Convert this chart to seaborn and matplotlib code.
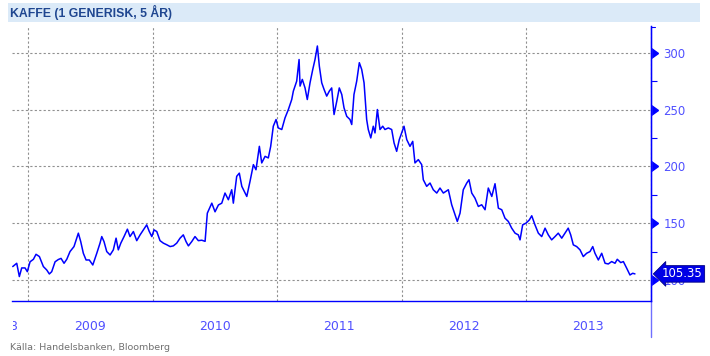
import pandas as pd
import seaborn as sns
import matplotlib
matplotlib.use("Agg")
import matplotlib.pyplot as plt
from matplotlib.transforms import Bbox, TransformedBbox, blended_transform_factory

# coffee, 1st generic (decimal year, price)
dates = [
    2008.877, 2008.909, 2008.930, 2008.949, 2008.976, 2008.994, 2009.016, 2009.043, 2009.064, 2009.091,
    2009.123, 2009.150, 2009.171, 2009.190, 2009.217, 2009.243, 2009.265, 2009.289, 2009.311, 2009.337,
    2009.369, 2009.404, 2009.423, 2009.444, 2009.466, 2009.492, 2009.520, 2009.552, 2009.578, 2009.592,
    2009.610, 2009.632, 2009.659, 2009.685, 2009.707, 2009.725, 2009.745, 2009.771, 2009.798, 2009.819,
    2009.846, 2009.873, 2009.900, 2009.926, 2009.953, 2009.974, 2009.994, 2010.012, 2010.034, 2010.060,
    2010.087, 2010.114, 2010.141, 2010.167, 2010.194, 2010.221, 2010.247, 2010.269, 2010.288, 2010.315,
    2010.341, 2010.368, 2010.395, 2010.422, 2010.440, 2010.476, 2010.502, 2010.529, 2010.556, 2010.582,
    2010.609, 2010.636, 2010.649, 2010.676, 2010.697, 2010.717, 2010.757, 2010.783, 2010.810, 2010.831,
    2010.858, 2010.877, 2010.904, 2010.930, 2010.949, 2010.970, 2010.992, 2011.010, 2011.038, 2011.064,
    2011.091, 2011.118, 2011.131, 2011.158, 2011.177, 2011.185, 2011.203, 2011.225, 2011.243, 2011.265,
    2011.287, 2011.305, 2011.324, 2011.340, 2011.359, 2011.378, 2011.399, 2011.420, 2011.439, 2011.458,
    2011.480, 2011.500, 2011.520, 2011.538, 2011.560, 2011.586, 2011.600, 2011.618, 2011.640, 2011.661,
    2011.680, 2011.699, 2011.720, 2011.733, 2011.753, 2011.773, 2011.787, 2011.806, 2011.827, 2011.849,
    2011.867, 2011.894, 2011.921, 2011.940, 2011.961, 2011.982, 2012.020, 2012.042, 2012.068, 2012.090,
    2012.108, 2012.135, 2012.162, 2012.175, 2012.202, 2012.229, 2012.255, 2012.283, 2012.309, 2012.336,
    2012.376, 2012.403, 2012.430, 2012.448, 2012.470, 2012.496, 2012.524, 2012.542, 2012.564, 2012.590,
    2012.617, 2012.644, 2012.671, 2012.697, 2012.725, 2012.751, 2012.778, 2012.805, 2012.831, 2012.858,
    2012.885, 2012.912, 2012.938, 2012.952, 2012.973, 2013.000, 2013.027, 2013.046, 2013.072, 2013.099,
    2013.126, 2013.153, 2013.179, 2013.206, 2013.233, 2013.259, 2013.287, 2013.313, 2013.339, 2013.359,
    2013.380, 2013.407, 2013.434, 2013.460, 2013.487, 2013.514, 2013.536, 2013.554, 2013.581, 2013.608,
    2013.635, 2013.661, 2013.688, 2013.715, 2013.733, 2013.761, 2013.782, 2013.809, 2013.835, 2013.857,
    2013.875,
]
price = [
    111.8, 114.7, 103.0, 110.6, 110.6, 107.3, 116.0, 118.2, 122.6, 120.6,
    111.8, 108.8, 105.3, 107.3, 116.0, 118.0, 119.0, 114.7, 118.2, 125.0,
    129.4, 141.2, 133.8, 123.5, 117.6, 117.6, 113.2, 123.5, 132.4, 138.2,
    133.8, 125.0, 122.0, 126.5, 136.8, 126.5, 132.4, 138.2, 144.7, 138.2,
    142.6, 134.6, 139.7, 144.1, 148.5, 142.6, 138.2, 144.1, 142.6, 134.6,
    132.4, 131.0, 129.4, 130.0, 132.4, 136.8, 139.7, 133.8, 130.0, 133.8,
    138.2, 134.6, 135.0, 134.0, 158.8, 167.6, 160.0, 166.0, 167.6, 176.5,
    170.6, 179.4, 167.6, 191.2, 194.0, 182.4, 173.5, 186.8, 201.5, 197.0,
    217.6, 203.0, 208.8, 207.4, 217.6, 235.3, 241.2, 233.8, 232.4, 242.6,
    250.0, 258.8, 266.2, 275.0, 294.0, 270.6, 276.5, 269.0, 258.8, 273.5,
    285.3, 294.0, 305.9, 288.0, 273.5, 267.6, 261.8, 266.2, 269.0, 245.6,
    257.4, 269.0, 263.2, 251.5, 244.0, 241.2, 236.8, 263.2, 275.0, 291.2,
    285.3, 273.5, 241.2, 232.4, 225.0, 235.3, 229.4, 250.0, 232.4, 235.3,
    232.4, 233.8, 232.4, 220.6, 213.2, 223.5, 235.3, 223.5, 217.6, 222.0,
    203.0, 205.9, 201.5, 188.2, 182.4, 185.3, 179.4, 176.5, 180.9, 176.5,
    179.4, 166.2, 157.4, 151.5, 158.8, 179.4, 185.3, 188.2, 176.5, 172.0,
    164.7, 166.2, 161.8, 180.9, 173.5, 184.7, 163.2, 161.8, 154.4, 151.5,
    145.6, 141.2, 139.7, 135.3, 148.5, 150.0, 152.9, 156.5, 148.5, 141.2,
    138.2, 145.6, 139.7, 135.3, 138.2, 141.2, 136.8, 141.2, 145.6, 139.7,
    130.9, 129.4, 126.5, 120.6, 123.5, 125.0, 129.4, 123.5, 117.6, 123.5,
    114.7, 114.1, 116.2, 114.7, 118.2, 115.3, 116.2, 110.3, 104.4, 105.9,
    105.35,
]
year_labels = ["2008", "2009", "2010", "2011", "2012", "2013"]
year_starts = [2009, 2010, 2011, 2012, 2013, 2014]
y_major = [100, 150, 200, 250, 300]
y_minor = [125, 175, 225, 275]
last_label = "105.35"

df = pd.DataFrame({"date": dates, "price": price})

sns.set_style("white")
plt.rcParams["font.family"] = ["DejaVu Sans"]

BLUE = "#0000ff"
LBLUE = "#5050ff"

fig = plt.figure(figsize=(7.1, 3.56), dpi=100)
W, H = 710, 356
ax = fig.add_axes([12 / W, (H - 301) / H, 639 / W, 275 / H])

sns.lineplot(data=df, x="date", y="price", ax=ax, color=BLUE, linewidth=1.1,
             estimator=None, sort=False)
ax.set_xlabel("")
ax.set_ylabel("")

# grid
ax.set_xticks(year_starts)
ax.set_xticks([y + q for y in year_starts[:-1] for q in (0.25, 0.5, 0.75)], minor=True)
ax.set_xticklabels([])
ax.set_yticks(y_major)
ax.set_yticks(y_minor, minor=True)
ax.set_xlim(2008.871, 2014.004)
ax.set_ylim(81.5, 323.5)
ax.grid(True, which="major", color="#909090", linestyle=(0, (2, 2)), linewidth=0.8)
ax.set_axisbelow(True)

for s in ["top", "left"]:
    ax.spines[s].set_visible(False)
ax.spines["bottom"].set_color(BLUE)
ax.spines["bottom"].set_linewidth(1.0)
ax.spines["right"].set_color(BLUE)
ax.spines["right"].set_linewidth(1.0)

ax.yaxis.tick_right()
ax.tick_params(axis="y", which="major", length=0, labelcolor=LBLUE, labelsize=8.5, pad=9)
ax.tick_params(axis="y", which="minor", length=4, color=BLUE, width=0.8, direction="out")
ax.tick_params(axis="x", which="major", length=26, color="#9090ff", width=1.0, direction="out")
ax.tick_params(axis="x", which="minor", length=3, color=BLUE, width=0.8, direction="out")

# triangle markers on the right axis
ax.plot([1] * len(y_major), y_major, ls="none", marker=9, markersize=7, color=BLUE,
        transform=ax.get_yaxis_transform(), clip_on=False)
# right axis runs below the plot
ax.plot([1, 1], [-0.13, 1], color="#7070ff", linewidth=1.0, transform=ax.transAxes, clip_on=False)
ax.plot([1, 1.006], [0.995, 0.995], color=BLUE, linewidth=0.8, transform=ax.transAxes, clip_on=False)

# year labels below the axis (the 2008 one is cut at the left edge, as in the original)
trans = blended_transform_factory(ax.transData, fig.transFigure)
clip = TransformedBbox(Bbox([[12.5 / W, 0], [1, 1]]), fig.transFigure)
for lab, start in zip(year_labels, year_starts):
    xc = start - 0.5 if lab != "2008" else 2008.792
    t = ax.text(xc, 1 - 327 / H, lab, transform=trans, ha="center", va="center",
                color=LBLUE, fontsize=9, clip_on=True)
    t.set_clip_box(clip)

# last value tag
ax.annotate(last_label, xy=(1.0, price[-1]), xycoords=("axes fraction", "data"),
            xytext=(8, 0), textcoords="offset points", ha="left", va="center",
            color="white", fontsize=8.5,
            bbox=dict(boxstyle="larrow,pad=0.15", fc="#0000e6", ec="#000080", lw=0.6),
            annotation_clip=False)

# title band
fig.patches.append(plt.Rectangle((8 / W, 1 - 22 / H), 692 / W, 19 / H, transform=fig.transFigure,
                                 facecolor="#dbeaf8", edgecolor="none", zorder=0))
fig.text(10 / W, 1 - 12.5 / H, "KAFFE (1 GENERISK, 5 ÅR)", ha="left", va="center",
         fontsize=8.8, fontweight="bold", color="#1f4690", family=["Liberation Sans", "DejaVu Sans"])

fig.text(10 / W, 1 - 347 / H, "Källa: Handelsbanken, Bloomberg", ha="left", va="center",
         fontsize=6.8, color="#707070")

fig.savefig("out.png", dpi=100)
